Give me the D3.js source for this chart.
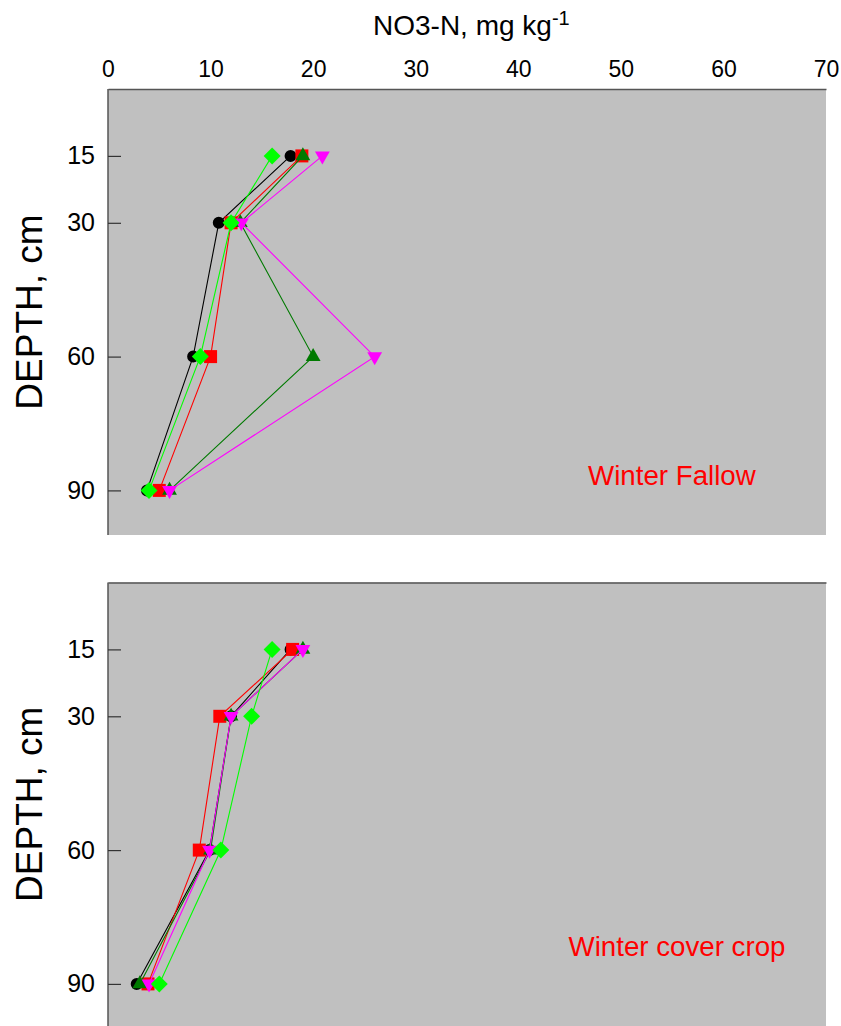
<!DOCTYPE html>
<html>
<head>
<meta charset="utf-8">
<script src="https://cdn.jsdelivr.net/npm/d3@7"></script>
<style>
  body { margin: 0; background: #fff; }
  svg text { font-family: "Liberation Sans", Arial, sans-serif; }
</style>
</head>
<body>
<svg id="chart"></svg>
<script>
// depths (cm) and x tick values
const depths = [15, 30, 60, 90];
const xTicks = [0, 10, 20, 30, 40, 50, 60, 70];

// NO3-N, mg/kg - winter fallow
const fallowBlack   = [17.8, 10.8, 8.3, 3.8];
const fallowRed     = [18.9, 12.0, 10.0, 5.0];
const fallowDkGreen = [19.0, 12.9, 20.0, 6.0];
const fallowMagenta = [20.9, 13.0, 26.0, 6.0];
const fallowGreen   = [16.0, 12.0, 9.0, 4.0];

// NO3-N, mg/kg - winter cover crop
const coverBlack   = [17.8, 12.0, 9.9, 2.8];
const coverRed     = [18.0, 10.9, 8.9, 3.9];
const coverDkGreen = [19.0, 12.0, 10.0, 3.1];
const coverMagenta = [19.0, 12.0, 9.9, 4.0];
const coverGreen   = [16.0, 14.0, 11.0, 5.0];

const width = 841, height = 1026;
const left = 108, right = 826;

const svg = d3.select('#chart')
    .attr('width', width)
    .attr('height', height);

const xScale = d3.scaleLinear().domain([0, 70]).range([left, right]);

// series styling (marker shape, size, rotation, colour)
const styles = [
  {color: '#000000', symbol: d3.symbolCircle, size: 113, rot: 0},
  {color: '#ff0000', symbol: d3.symbolSquare, size: 169, rot: 0},
  {color: '#007a00', symbol: d3.symbolTriangle, size: 95, rot: 0},
  {color: '#ff00ff', symbol: d3.symbolTriangle, size: 95, rot: 180},
  {color: '#00ff00', symbol: d3.symbolSquare, size: 144, rot: 45}
];

function drawPanel(top, bottom, series, label, labelPos, showXLabels) {
  const yScale = d3.scaleLinear().domain([0, 100]).range([top, top + 446]);

  const g = svg.append('g');

  // grey plot background
  g.append('rect')
      .attr('x', left)
      .attr('y', top)
      .attr('width', right - left)
      .attr('height', bottom - top)
      .attr('fill', '#c0c0c0');

  // top axis
  const xAxis = d3.axisTop(xScale)
      .tickValues(showXLabels ? xTicks : [])
      .tickSize(0)
      .tickPadding(12);
  const xAxisG = g.append('g')
      .attr('transform', `translate(0,${top})`)
      .call(xAxis);
  xAxisG.select('.domain').attr('stroke', '#555').attr('stroke-width', 1.5);
  xAxisG.selectAll('text')
      .attr('font-size', 23)
      .attr('fill', '#000');

  // left axis, ticks pointing inward
  const yAxis = d3.axisLeft(yScale)
      .tickValues(depths)
      .tickSizeInner(-13)
      .tickSizeOuter(0)
      .tickPadding(13);
  const yAxisG = g.append('g')
      .attr('transform', `translate(${left},0)`)
      .call(yAxis);
  yAxisG.select('.domain')
      .attr('d', `M0,${top}V${bottom}`)
      .attr('stroke', '#555').attr('stroke-width', 1.5);
  yAxisG.selectAll('.tick line').attr('stroke', '#333').attr('stroke-width', 1.2);
  yAxisG.selectAll('text')
      .attr('font-size', 25)
      .attr('fill', '#000');

  // y axis title
  g.append('text')
      .attr('transform', `translate(42,${(top + bottom) / 2}) rotate(-90)`)
      .attr('text-anchor', 'middle')
      .attr('font-size', 37)
      .text('DEPTH, cm');

  const line = d3.line()
      .x(d => xScale(d[0]))
      .y(d => yScale(d[1]));

  series.forEach((vals, i) => {
    const st = styles[i];
    const pts = vals.map((v, j) => [v, depths[j]]);
    g.append('path')
        .datum(pts)
        .attr('fill', 'none')
        .attr('stroke', st.color)
        .attr('stroke-width', 1.1)
        .attr('d', line);
    g.selectAll(null)
        .data(pts)
        .enter()
      .append('path')
        .attr('transform', d => `translate(${xScale(d[0])},${yScale(d[1])}) rotate(${st.rot})`)
        .attr('d', d3.symbol().type(st.symbol).size(st.size))
        .attr('fill', st.color);
  });

  g.append('text')
      .attr('x', xScale(labelPos[0]))
      .attr('y', yScale(labelPos[1]))
      .attr('font-size', 27.7)
      .attr('fill', '#ff0000')
      .text(label);
}

drawPanel(89, 535,
  [fallowBlack, fallowRed, fallowDkGreen, fallowMagenta, fallowGreen],
  'Winter Fallow', [46.8, 88.8], true);

drawPanel(582.5, 1026,
  [coverBlack, coverRed, coverDkGreen, coverMagenta, coverGreen],
  'Winter cover crop', [44.9, 83.8], false);

// x axis title with superscript
const title = svg.append('text')
    .attr('x', 373)
    .attr('y', 35)
    .attr('font-size', 28)
    .text('NO3-N, mg kg');
title.append('tspan')
    .attr('font-size', 20)
    .attr('dy', -10)
    .text('-1');
</script>
</body>
</html>
